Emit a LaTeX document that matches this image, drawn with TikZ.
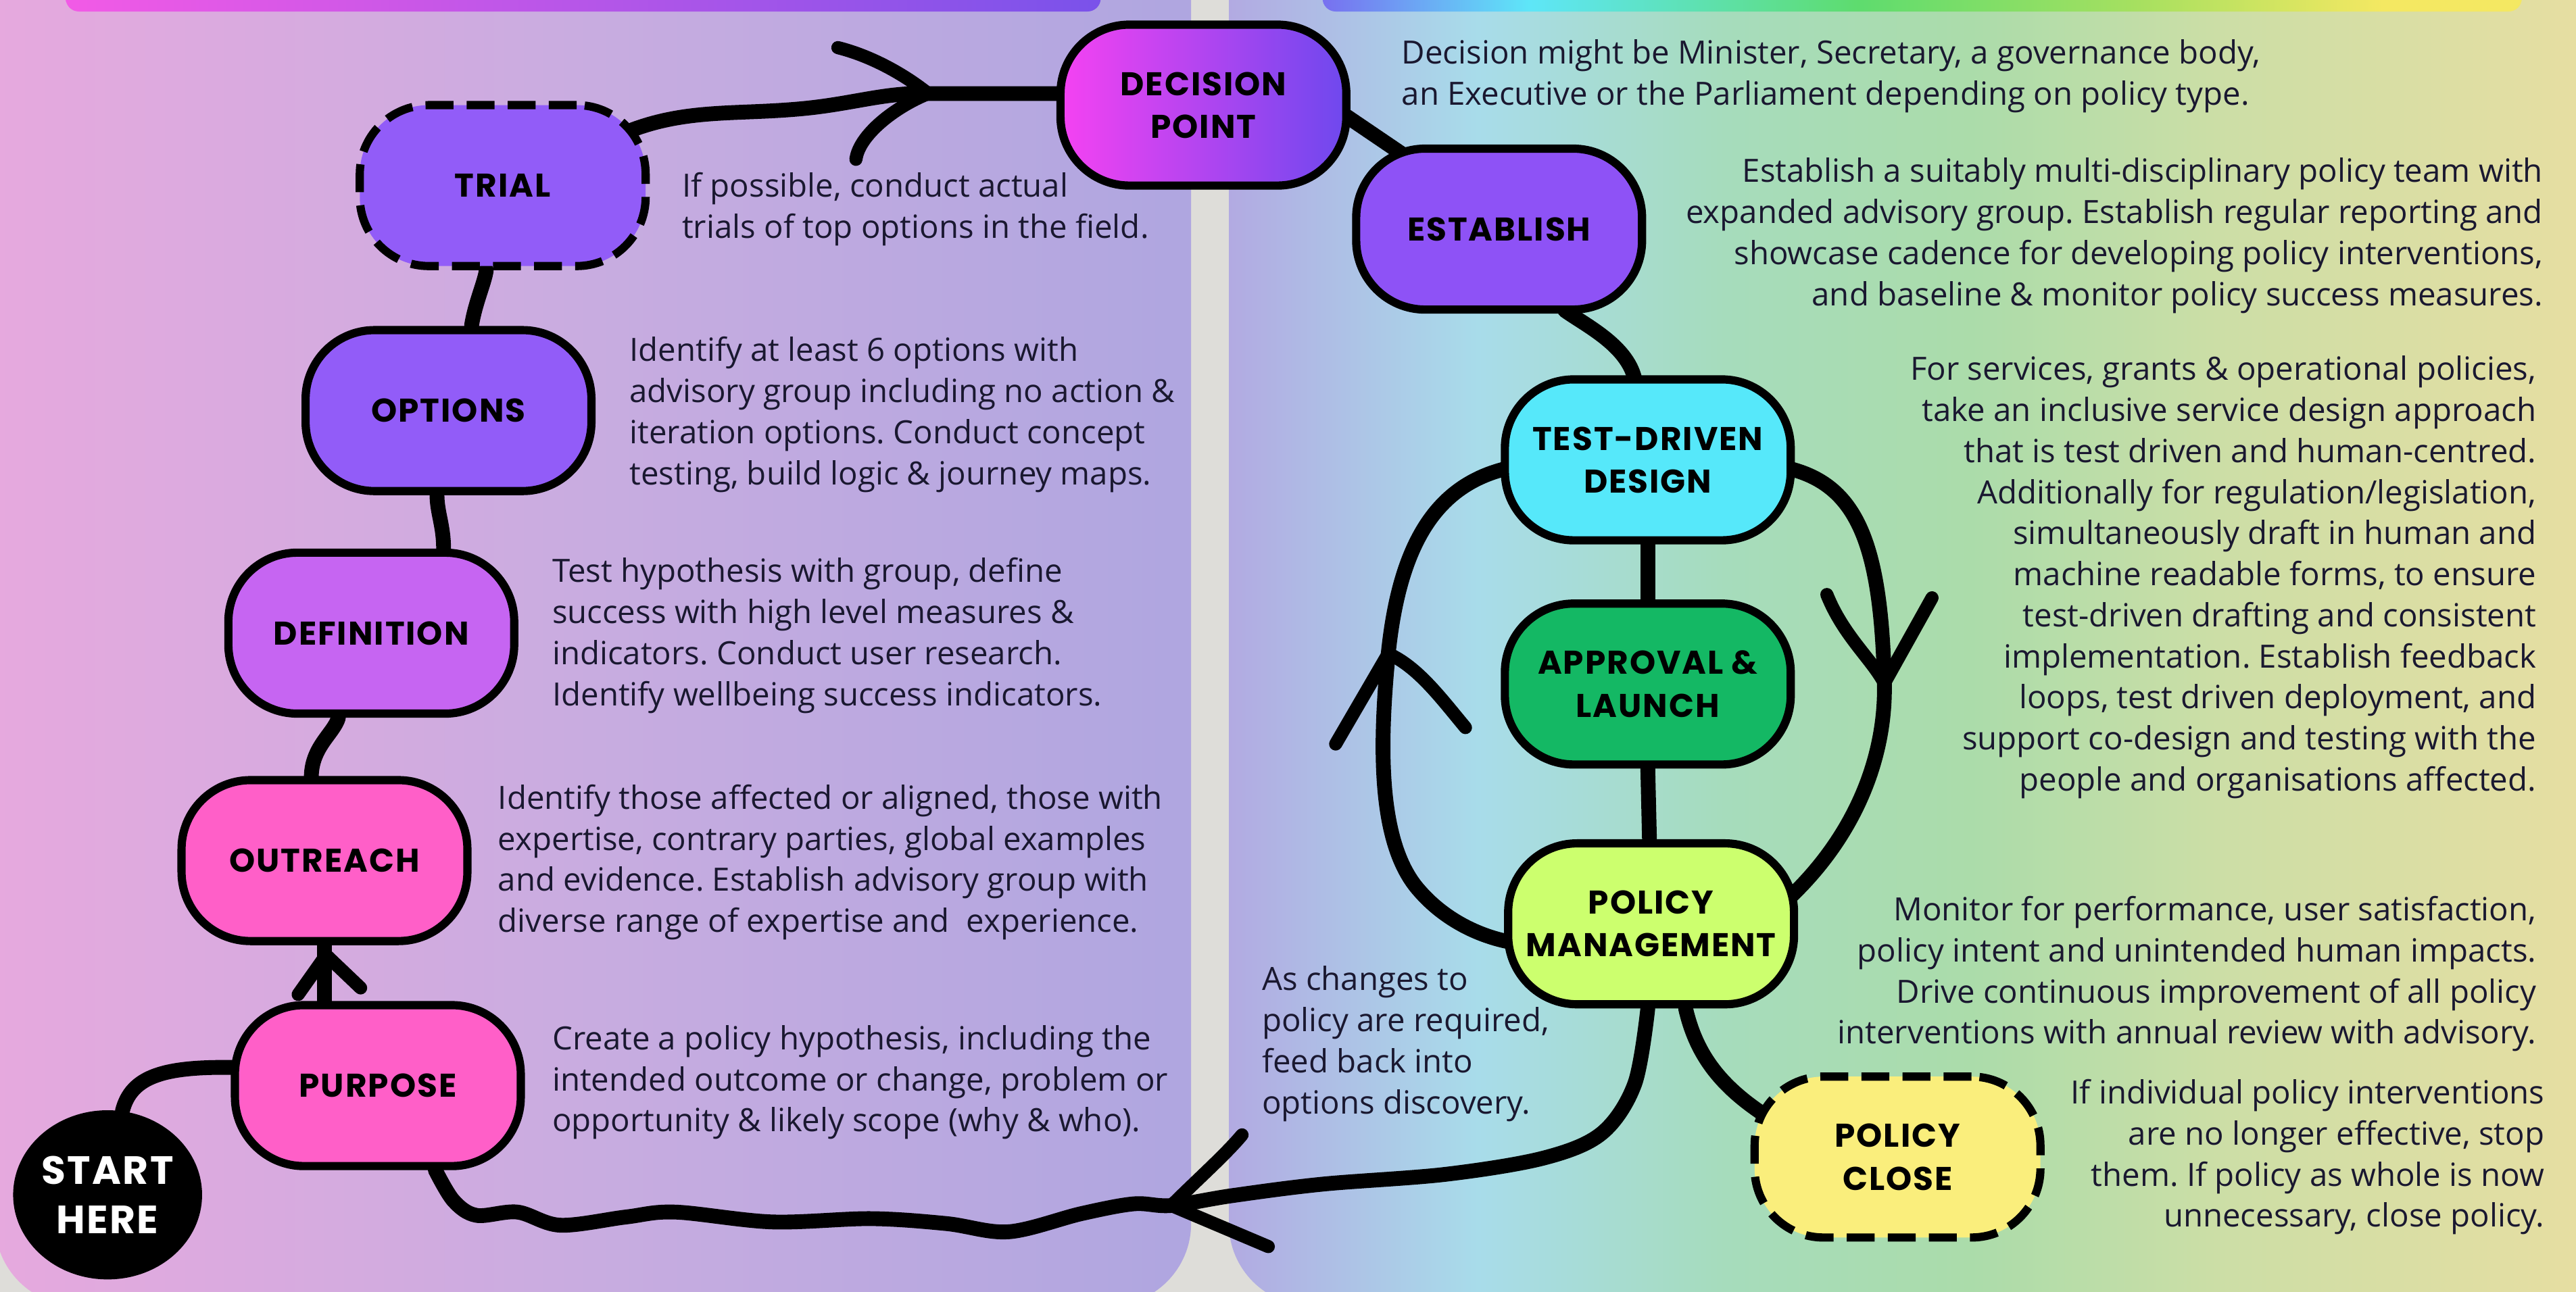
\documentclass[tikz,border=0pt]{standalone}
\usepackage{fontspec}
\setmainfont{Open Sans}
\newfontfamily\hand[LetterSpace=4]{Poppins}
\usetikzlibrary{calc,shapes.geometric}
\pgfdeclarelayer{back}
\pgfdeclarelayer{lines}
\pgfsetlayers{back,lines,main}
\frenchspacing

\definecolor{pinkN}{HTML}{FF5FC8}
\definecolor{orchidN}{HTML}{C665F2}
\definecolor{violetN}{HTML}{925CF8}
\definecolor{estN}{HTML}{8E52F6}
\definecolor{cyanN}{HTML}{56E8FA}
\definecolor{greenN}{HTML}{14B864}
\definecolor{limeN}{HTML}{CCFF6E}
\definecolor{yellowN}{HTML}{FAEE7C}
\definecolor{decL}{HTML}{F542F2}
\definecolor{decR}{HTML}{6E48EE}
\definecolor{txt}{HTML}{1A1830}
\definecolor{gapc}{HTML}{DEDDD9}
\definecolor{lp1}{HTML}{E6A9DE}
\definecolor{lp2}{HTML}{C8ACE0}
\definecolor{lp3}{HTML}{AFA6E0}
\definecolor{rb1}{HTML}{B2AAE2}
\definecolor{rb2}{HTML}{A8DCEA}
\definecolor{rb3}{HTML}{A6DCBC}
\definecolor{rb4}{HTML}{ABDCAA}
\definecolor{rb5}{HTML}{CCDEA6}
\definecolor{rb6}{HTML}{E6DEA2}
\definecolor{lb1}{HTML}{F25AE6}
\definecolor{lb2}{HTML}{7A52EA}
\definecolor{tb1}{HTML}{7870F0}
\definecolor{tb2}{HTML}{5EE6F8}
\definecolor{tb3}{HTML}{5EDC6E}
\definecolor{tb4}{HTML}{A6E060}
\definecolor{tb5}{HTML}{F4E862}

\pgfdeclarehorizontalshading{rightbg}{100bp}{color(0bp)=(rb1); color(25bp)=(rb1); color(33.7bp)=(rb2); color(42.3bp)=(rb3); color(50.9bp)=(rb4); color(59.5bp)=(rb5); color(72bp)=(rb6); color(100bp)=(rb6)}
\pgfdeclarehorizontalshading{topbar}{100bp}{color(0bp)=(tb1); color(25bp)=(tb1); color(33.6bp)=(tb2); color(47.3bp)=(tb3); color(58.9bp)=(tb4); color(69.2bp)=(tb5); color(100bp)=(tb5)}

\newcommand\bodysize{\fontsize{19.5}{25}\selectfont}

\tikzset{
 nbox/.style={rectangle, rounded corners=42pt, draw=black, line width=5pt, minimum width=174pt, minimum height=98pt, inner sep=0pt, align=center, font=\hand\bfseries\fontsize{20}{26}\selectfont},
 dbox/.style={nbox, dash pattern=on 17pt off 8pt},
 conn/.style={line width=9pt, line cap=round, line join=round},
 tipline/.style={line width=8pt, line cap=round, line join=round},
 ltxt/.style={anchor=west, align=left, inner sep=0pt, text=txt, font=\bodysize},
 rtxt/.style={anchor=east, align=right, inner sep=0pt, text=txt, font=\bodysize},
}

\begin{document}
\begin{tikzpicture}[x=1pt,y=-1pt]
\useasboundingbox (0,0) rectangle (1568,786.3);
\begin{pgfonlayer}{back}
\fill[gapc] (-1,-1) rectangle (1569,787.3);
\shade[left color=lp1, right color=lp3, middle color=lp2, rounded corners=50pt] (-3,-60) rectangle (725,795);
\shade[shading=rightbg, rounded corners=50pt] (748,-60) rectangle (1620,795);
\shade[left color=lb1, right color=lb2, rounded corners=8pt] (40,-20) rectangle (670,7);
\shade[shading=topbar, rounded corners=8pt] (805,-20) rectangle (1535,7);
\end{pgfonlayer}

% nodes
\node[ellipse, fill=black, minimum width=115pt, minimum height=103pt, inner sep=0pt, align=center, text=white, font=\hand\bfseries\fontsize{24}{30}\selectfont] (start) at (65.5,727.5) {START\\HERE};
\node[nbox, fill=pinkN] (purpose) at (230,661) {PURPOSE};
\node[nbox, fill=pinkN] (outreach) at (197.5,524) {OUTREACH};
\node[nbox, fill=orchidN] (definition) at (226,385.5) {DEFINITION};
\node[nbox, fill=violetN] (options) at (273,250) {OPTIONS};
\node[dbox, fill=violetN] (trial) at (306,113) {TRIAL};
\node[nbox, left color=decL, right color=decR] (decision) at (732.5,64) {DECISION\\POINT};
\node[nbox, fill=estN] (establish) at (912.5,139.5) {ESTABLISH};
\node[nbox, fill=cyanN] (testdriven) at (1003,280) {TEST-DRIVEN\\DESIGN};
\node[nbox, fill=greenN] (approval) at (1003,416.5) {APPROVAL \&\\LAUNCH};
\node[nbox, fill=limeN] (policy) at (1005,562.5) {POLICY\\MANAGEMENT};
\node[dbox, fill=yellowN] (close) at (1155,704.5) {POLICY\\CLOSE};

% texts
\node[ltxt] (trialtxt) at (415,127.5) {If possible, conduct actual\\trials of top options in the field.};
\node[ltxt] (optionstxt) at (383,252.5) {Identify at least 6 options with\\advisory group including no action \&\\iteration options. Conduct concept\\testing, build logic \& journey maps.};
\node[ltxt] (deftxt) at (336,387) {Test hypothesis with group, define\\success with high level measures \&\\indicators. Conduct user research.\\Identify wellbeing success indicators.};
\node[ltxt] (outtxt) at (303,525) {Identify those affected or aligned, those with\\expertise, contrary parties, global examples\\and evidence. Establish advisory group with\\diverse range of expertise and\ \ experience.};
\node[ltxt] (purtxt) at (336,659) {Create a policy hypothesis, including the\\intended outcome or change, problem or\\opportunity \& likely scope (why \& who).};
\node[ltxt] (dectxt) at (853,46.5) {Decision might be Minister, Secretary, a governance body,\\an Executive or the Parliament depending on policy type.};
\node[ltxt] (changetxt) at (768,635.5) {As changes to\\policy are required,\\feed back into\\options discovery.};
\node[rtxt] (esttxt) at (1548,143.5) {Establish a suitably multi-disciplinary policy team with\\expanded advisory group. Establish regular reporting and\\showcase cadence for developing policy interventions,\\and baseline \& monitor policy success measures.};
\node[rtxt] (tddtxt) at (1544,351.5) {For services, grants \& operational policies,\\take an inclusive service design approach\\that is test driven and human-centred.\\Additionally for regulation/legislation,\\simultaneously draft in human and\\machine readable forms, to ensure\\test-driven drafting and consistent\\implementation. Establish feedback\\loops, test driven deployment, and\\support co-design and testing with the\\people and organisations affected.};
\node[rtxt] (pmtxt) at (1544,593) {Monitor for performance, user satisfaction,\\policy intent and unintended human impacts.\\Drive continuous improvement of all policy\\interventions with annual review with advisory.};
\node[rtxt] (closetxt) at (1549,704.5) {If individual policy interventions\\are no longer effective, stop\\them. If policy as whole is now\\unnecessary, close policy.};

% arrow tips
\coordinate (t1) at (565,57);
\coordinate (lt) at (845,398);
\coordinate (rt) at (1147,416);
\coordinate (ft) at (713,734);

\begin{pgfonlayer}{lines}
\draw[conn] (start.80) .. controls (80,655) and (100,649) .. ($(purpose.west)+(5,-11)$);
\draw[conn] (outreach.south |- purpose.north) -- (outreach.south);
\draw[tipline] ($(outreach.south)+(-16,30)$) -- ($(outreach.south)+(1,6)$) -- ($(outreach.south)+(22,26)$);
\draw[conn] ($(outreach.north)+(-8,2)$) .. controls (189,455) and (203,447) .. ($(definition.south)+(-20,0)$);
\draw[conn] ($(definition.north)+(44,0)$) .. controls (270,320) and (266,312) .. ($(options.south)+(-7,0)$);
\draw[conn] ($(options.north)+(14,0)$) .. controls (289,185) and (295,172) .. ($(trial.south)+(-10,0)$);
\draw[conn] ($(trial)+(79,-34)$) .. controls (420,66) and (450,70) .. (490,66) .. controls (520,63) and (540,56) .. (t1) -- ($(decision.west)+(10,-7)$);
\draw[tipline] ($(t1)+(-55,-28)$) .. controls +(20,5) and +(-15,-12) .. (t1) .. controls +(-20,8) and +(2,-15) .. ($(t1)+(-44,40)$);
\draw[conn] ($(decision)+(86,6)$) -- ($(establish)+(-52,-41)$);
\draw[conn] ($(establish.south)+(40,-2)$) .. controls (965,198) and (990,210) .. ($(testdriven.north)+(-8,2)$);
\draw[conn] (testdriven.south) -- (approval.north);
\draw[conn] (approval.south) -- ($(policy.north)+(-1,0)$);
\draw[conn] ($(testdriven)+(-85,5)$) .. controls (875,295) and (852,330) .. (lt) .. controls (840,450) and (838,510) .. (862,540) .. controls (880,562) and (905,572) .. ($(policy)+(-80,12)$);
\draw[tipline] ($(lt)+(-32,55)$) -- (lt) .. controls +(18,8) and +(-15,-18) .. ($(lt)+(47,45)$);
\draw[conn] ($(testdriven)+(85,5)$) .. controls (1130,295) and (1145,330) .. (rt) .. controls (1148,460) and (1130,510) .. ($(policy)+(80,-12)$);
\draw[tipline] ($(rt)+(-35,-54)$) .. controls +(10,25) and +(-8,-15) .. (rt) -- ($(rt)+(29,-52)$);
\draw[conn] plot[smooth, tension=0.55] coordinates {($(policy.south)+(-2,0)$) (995,660) (975,690) (940,705) (880,715) (805,721) (750,728) (ft) (690,733) (658,739) (614,750) (576,745) (530,742) (470,744) (411,738) (381,741) (341,746) (315,738) (290,740) (276,731) ($(purpose.south)+(35,0)$)};
\draw[tipline] ($(ft)+(43,-43)$) .. controls +(-10,12) and +(15,-15) .. (ft) -- ($(ft)+(59,25)$);
\draw[conn] ($(policy.south)+(21,0)$) .. controls (1032,640) and (1045,660) .. ($(close)+(-80,-25)$);
\end{pgfonlayer}
\end{tikzpicture}
\end{document}
